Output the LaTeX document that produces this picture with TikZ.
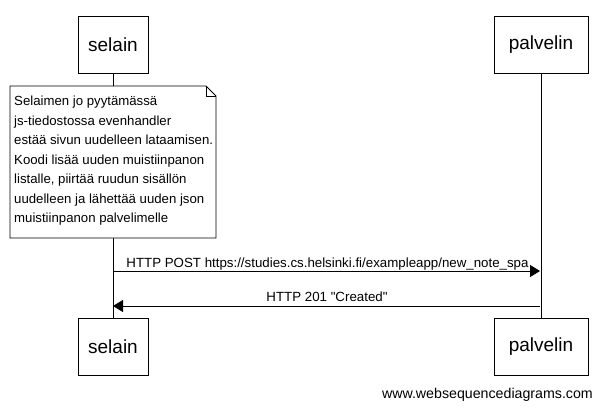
\documentclass[tikz,border=0pt]{standalone}
\usepackage{fontspec}
\setmainfont{Liberation Sans}
\usetikzlibrary{arrows.meta}
\newcommand\mydq{\XeTeXglyph\XeTeXcharglyph"22\relax}
\begin{document}
\begin{tikzpicture}[x=1pt,y=-1pt,
  actor/.style={draw,line width=0.8pt,minimum height=57pt,font=\fontsize{19}{22}\selectfont,inner sep=0pt},
  lifeline/.style={line width=0.8pt},
  msg/.style={line width=0.8pt,-{Triangle[length=10pt,width=12pt]}},
  lbl/.style={font=\fontsize{13.3}{15}\selectfont,inner sep=0pt},
  notebox/.style={line width=0.8pt,fill=white}]
\fill[white] (0,0) rectangle (602,410);
\useasboundingbox (0,0) rectangle (602,410);
% actors
\node[actor,minimum width=70pt] (s1) at (113,44.5) {selain};
\node[actor,minimum width=94pt] (p1) at (541,44.5) {palvelin};
\node[actor,minimum width=70pt] (s2) at (113,346.5) {selain};
\node[actor,minimum width=94pt] (p2) at (541,346.5) {palvelin};
% lifelines
\draw[lifeline] (s1.south) -- (s2.north);
\draw[lifeline] (p1.south) -- (p2.north);
% note
\draw[notebox] (10,86) -- (206,86) -- (216,96) -- (216,238) -- (10,238) -- cycle;
\draw[line width=0.8pt] (206,86) -- (206,96) -- (216,96);
\node[lbl,anchor=north west,align=left,font=\fontsize{13.2}{19.5}\selectfont] (note) at (14,96) {Selaimen jo pyytämässä\\js-tiedostossa evenhandler\\estää sivun uudelleen lataamisen.\\Koodi lisää uuden muistiinpanon\\listalle, piirtää ruudun sisällön\\uudelleen ja lähettää uuden json\\muistiinpanon palvelimelle};
% messages
\coordinate (m1s) at (113,271);
\coordinate (m1e) at (540,271);
\draw[msg] (m1s) -- (m1e);
\node[lbl,anchor=base] (t1) at (327.5,267) {HTTP POST https://studies.cs.helsinki.fi/exampleapp/new\_note\_spa};
\coordinate (m2s) at (540,306);
\coordinate (m2e) at (113,306);
\draw[msg] (m2s) -- (m2e);
\node[lbl,anchor=base] (t2) at (327,301.5) {HTTP 201 \mydq Created\mydq};
% footer
\node[lbl,anchor=base east,font=\fontsize{14.2}{16}\selectfont] (foot) at (593,398) {www.websequencediagrams.com};
\end{tikzpicture}
\end{document}
